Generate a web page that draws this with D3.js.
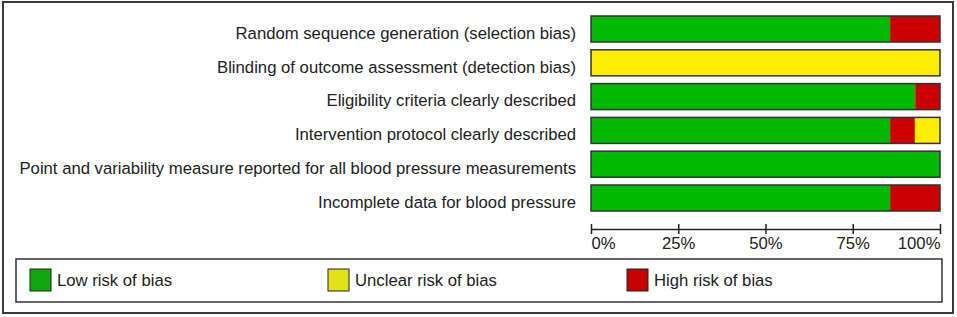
<!DOCTYPE html>
<html>
<head>
<meta charset="utf-8">
<script src="https://cdn.jsdelivr.net/npm/d3@7"></script>
<style>
	body { margin: 0; background: #fff; }
	svg { display: block; font-family: "Liberation Sans", Arial, sans-serif; }
</style>
</head>
<body>
<div id="chart"></div>
<script>
// risk of bias domains
const categories = [
	"Random sequence generation (selection bias)",
	"Blinding of outcome assessment (detection bias)",
	"Eligibility criteria clearly described",
	"Intervention protocol clearly described",
	"Point and variability measure reported for all blood pressure measurements",
	"Incomplete data for blood pressure",
];
// percentages of studies (14 studies)
const low_risk = [85.7, 0, 92.9, 85.7, 100, 85.7];
const high_risk = [14.3, 0, 7.1, 7.1, 0, 14.3];
const unclear_risk = [0, 100, 0, 7.2, 0, 0];
const tick_values = [0, 25, 50, 75, 100];
const legend_labels = ["Low risk of bias", "Unclear risk of bias", "High risk of bias"];

const width = 957,
	height = 317;
const font_size = 16.7;

const svg = d3
	.select("#chart")
	.append("svg")
	.attr("width", width)
	.attr("height", height);

// outer frame
svg.append("rect")
	.attr("x", 3)
	.attr("y", 2)
	.attr("width", 950)
	.attr("height", 311)
	.attr("fill", "#fff")
	.attr("stroke", "#3a3a3a")
	.attr("stroke-width", 2);

const rows = categories.map((c, i) => ({
	name: c,
	low: low_risk[i],
	high: high_risk[i],
	unclear: unclear_risk[i],
}));

const keys = ["low", "high", "unclear"];
const color = d3
	.scaleOrdinal()
	.domain(keys)
	.range(["#00b900", "#cc0000", "#ffee00"]);

const x = d3.scaleLinear().domain([0, 100]).range([591, 940]);
const y = d3
	.scaleBand()
	.domain(categories)
	.range([16, 211])
	.paddingInner(0.23)
	.paddingOuter(0);

const stacked = d3.stack().keys(keys)(rows);

// bars
svg.append("g")
	.selectAll("g")
	.data(stacked)
	.enter()
	.append("g")
	.attr("fill", (d) => color(d.key))
	.selectAll("rect")
	.data((d) => d)
	.enter()
	.filter((d) => d[1] - d[0] > 0)
	.append("rect")
	.attr("x", (d) => x(d[0]))
	.attr("y", (d) => y(d.data.name))
	.attr("width", (d) => x(d[1]) - x(d[0]))
	.attr("height", y.bandwidth());

// bar outlines
svg.append("g")
	.selectAll("rect")
	.data(rows)
	.enter()
	.append("rect")
	.attr("x", x(0))
	.attr("y", (d) => y(d.name))
	.attr("width", x(100) - x(0))
	.attr("height", y.bandwidth())
	.attr("fill", "none")
	.attr("stroke", "#333")
	.attr("stroke-width", 1.5);

// domain labels (sit a little below the bar centre, like the original)
svg.append("g")
	.selectAll("text")
	.data(categories)
	.enter()
	.append("text")
	.attr("x", 576)
	.attr("y", (d) => y(d) + y.bandwidth() / 2 + 4)
	.attr("dy", "0.35em")
	.attr("text-anchor", "end")
	.attr("font-size", font_size)
	.attr("fill", "#222")
	.text((d) => d);

// x axis
const axis = svg
	.append("g")
	.attr("transform", "translate(0,229)")
	.call(
		d3.axisBottom(x)
			.tickValues(tick_values)
			.tickSizeOuter(0)
			.tickFormat((d) => d + "%")
	);
axis.select(".domain").attr("stroke", "#222").attr("stroke-width", 1.5);
axis.selectAll(".tick line").attr("y1", -5).attr("y2", 5).attr("stroke", "#222").attr("stroke-width", 1.5);
axis.selectAll(".tick text")
	.attr("y", 8)
	.attr("font-size", font_size)
	.attr("font-family", "Liberation Sans, Arial, sans-serif")
	.attr("fill", "#222")
	.attr("text-anchor", (d, i) => (i == 0 ? "start" : i == tick_values.length - 1 ? "end" : "middle"));

// legend
svg.append("rect")
	.attr("x", 16)
	.attr("y", 259)
	.attr("width", 926)
	.attr("height", 43)
	.attr("fill", "none")
	.attr("stroke", "#333")
	.attr("stroke-width", 1.5);

const legend_colors = ["#11a811", "#e2e218", "#c40000"];
const legend_x = [30, 328, 627];
const legend = svg
	.append("g")
	.selectAll("g")
	.data(legend_labels)
	.enter()
	.append("g")
	.attr("transform", (d, i) => "translate(" + legend_x[i] + ",269)");
legend.append("rect")
	.attr("width", 21)
	.attr("height", 22)
	.attr("fill", (d, i) => legend_colors[i])
	.attr("stroke", "#222")
	.attr("stroke-width", 1);
legend.append("text")
	.attr("x", 27)
	.attr("y", 11)
	.attr("dy", "0.35em")
	.attr("font-size", font_size)
	.attr("fill", "#222")
	.text((d) => d);
</script>
</body>
</html>
